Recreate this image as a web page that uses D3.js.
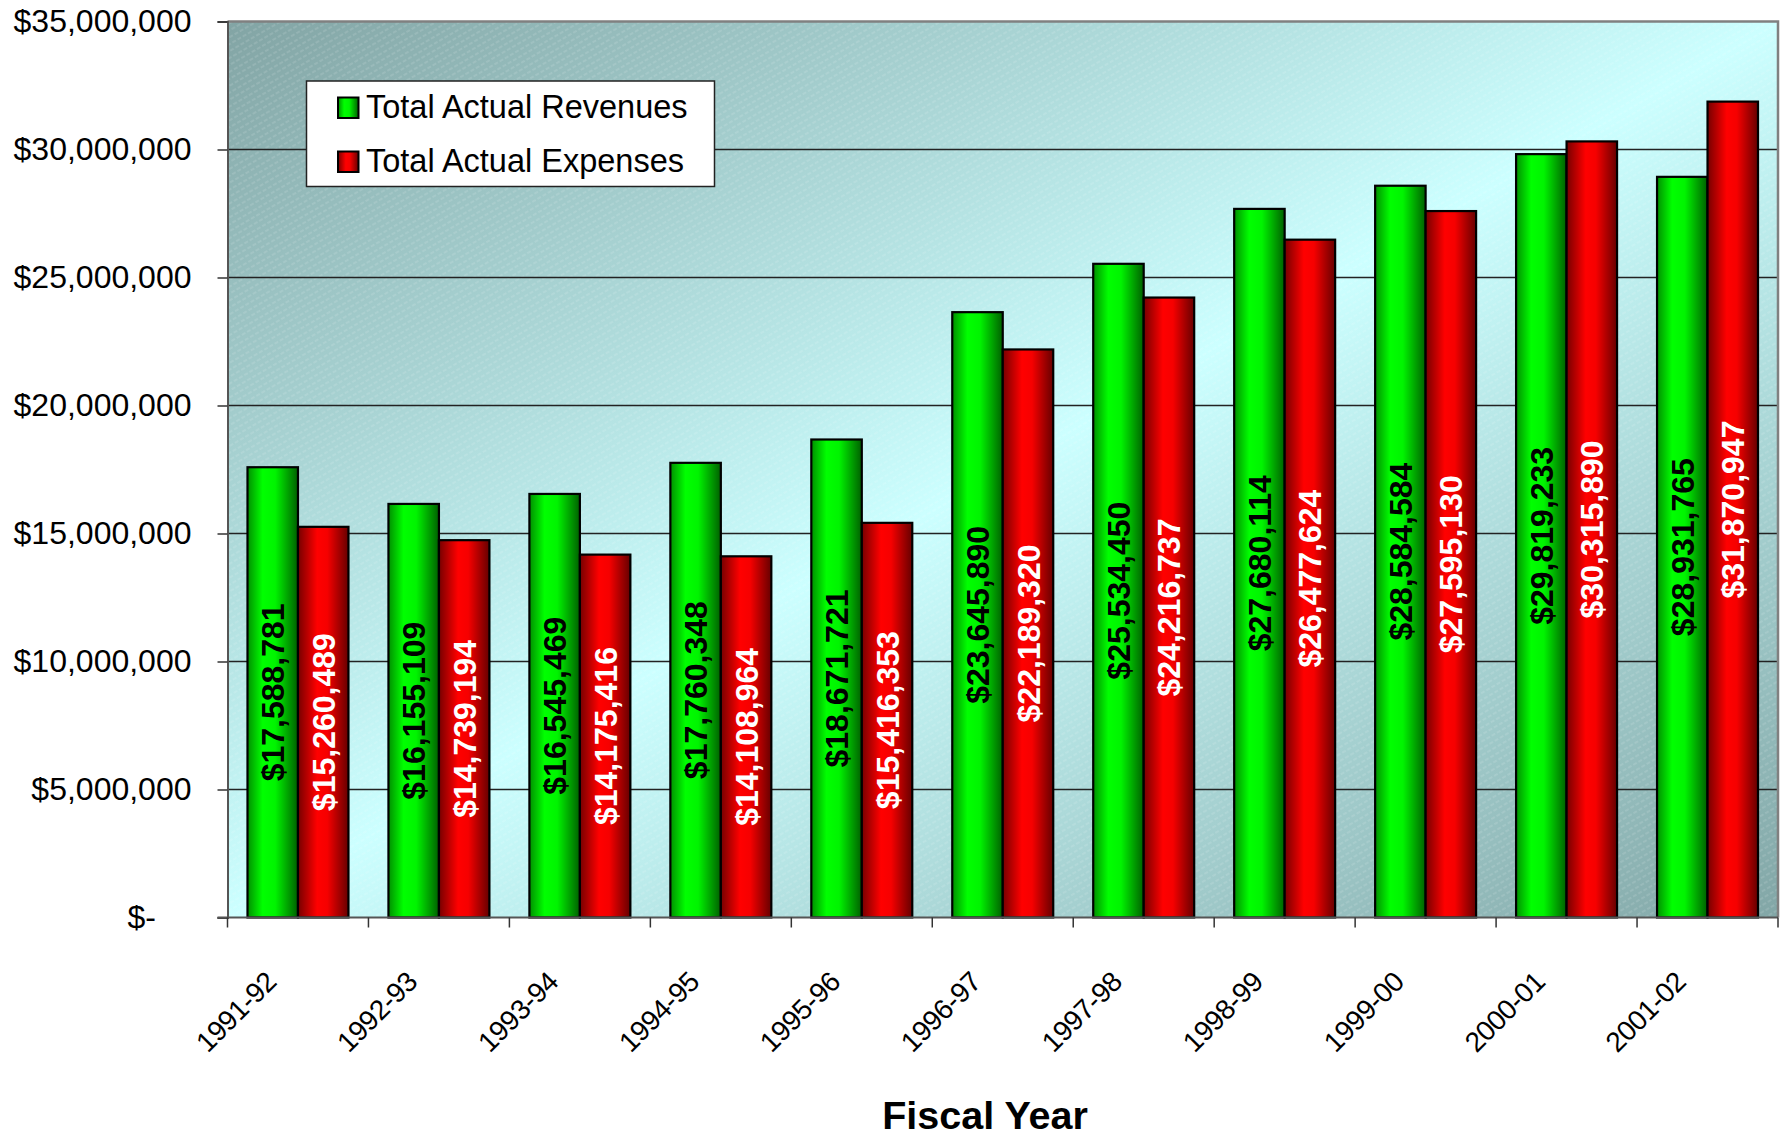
<!DOCTYPE html>
<html><head><meta charset="utf-8">
<script src="https://cdn.jsdelivr.net/npm/d3@7"></script>
<style>
html,body{margin:0;padding:0;background:#fff;}
svg{display:block;font-family:"Liberation Sans",Arial,sans-serif;}
</style></head>
<body>
<svg id="chart" width="1780" height="1136"></svg>
<script>
const categories = ["1991-92","1992-93","1993-94","1994-95","1995-96","1996-97","1997-98","1998-99","1999-00","2000-01","2001-02"];
const revenues = [17588781,16155109,16545469,17760348,18671721,23645890,25534450,27680114,28584584,29819233,28931765];
const expenses = [15260489,14739194,14175416,14108964,15416353,22189320,24216737,26477624,27595130,30315890,31870947];
const seriesNames = ["Total Actual Revenues","Total Actual Expenses"];
const yTicks = [0,5000000,10000000,15000000,20000000,25000000,30000000,35000000];
const xTitle = "Fiscal Year";

const svg = d3.select("#chart");
const L = 227.5, R = 1778, T = 21.5, B = 917.5;
const defs = svg.append("defs");

const bg = defs.append("linearGradient").attr("id","bgGrad").attr("x1",0).attr("y1",0).attr("x2",1).attr("y2",1);
bg.append("stop").attr("offset","0%").attr("stop-color","#82a4a4");
bg.append("stop").attr("offset","50%").attr("stop-color","#ccffff");
bg.append("stop").attr("offset","100%").attr("stop-color","#82a6a6");

const hatch = defs.append("pattern").attr("id","hatch").attr("patternUnits","userSpaceOnUse")
  .attr("width",12).attr("height",6).attr("patternTransform","rotate(-30)");
hatch.append("line").attr("x1",0).attr("y1",3).attr("x2",12).attr("y2",3)
  .attr("stroke","#fff").attr("stroke-width",0.8).attr("stroke-dasharray","4,2").attr("opacity",0.28);

function barGrad(id, stops){
  const g = defs.append("linearGradient").attr("id",id).attr("x1",0).attr("y1",0).attr("x2",1).attr("y2",0);
  stops.forEach(s=>g.append("stop").attr("offset",s[0]).attr("stop-color",s[1]));
}
barGrad("gGreen",[["0%","#009000"],["30%","#00ff00"],["55%","#00f400"],["100%","#006000"]]);
barGrad("gRed",[["0%","#760000"],["38%","#ff0000"],["58%","#f60000"],["100%","#660000"]]);
const fills = ["url(#gGreen)","url(#gRed)"];
const labelColors = ["#000","#fff"];

const x0 = d3.scaleBand().domain(categories).range([L,R]).paddingInner(0).paddingOuter(0);
const x1 = d3.scaleBand().domain([0,1]).range([0,x0.bandwidth()]).paddingInner(0).paddingOuter(0.396);
const y = d3.scaleLinear().domain([0,35000000]).range([B,T]);

svg.append("rect").attr("x",L).attr("y",T).attr("width",R-L).attr("height",B-T).attr("fill","url(#bgGrad)");
svg.append("rect").attr("x",L).attr("y",T).attr("width",R-L).attr("height",B-T).attr("fill","url(#hatch)");

svg.append("g").selectAll("line").data(yTicks.filter(d=>d>0 && d<35000000)).join("line")
  .attr("x1",L).attr("x2",R).attr("y1",d=>y(d)).attr("y2",d=>y(d))
  .attr("stroke","#222").attr("stroke-width",1.3);

svg.append("path").attr("d",`M${L},${T}H${R}V${B}`).attr("fill","none").attr("stroke","#808080").attr("stroke-width",2.5);

const fmt = d3.format(",");
const yAxis = d3.axisLeft(y).tickValues(yTicks).tickSize(10).tickPadding(26)
  .tickFormat(d => d === 0 ? "$-\u00a0\u00a0\u00a0\u00a0" : "$" + fmt(d));
const gy = svg.append("g").attr("transform",`translate(${L},0)`).call(yAxis);
gy.select(".domain").attr("stroke","#555").attr("stroke-width",2);
gy.selectAll(".tick line").attr("stroke","#333").attr("stroke-width",1.5);
gy.selectAll(".tick text").attr("font-size",32).attr("fill","#000").attr("font-family","Liberation Sans, Arial, sans-serif");

const data = categories.map((c,i)=>({c, v:[revenues[i],expenses[i]]}));
const groups = svg.append("g").selectAll("g").data(data).join("g")
  .attr("transform",d=>`translate(${x0(d.c)},0)`);
groups.selectAll("rect").data(d=>d.v.map((v,k)=>({v,k}))).join("rect")
  .attr("x",d=>x1(d.k)).attr("width",x1.bandwidth())
  .attr("y",d=>y(d.v)).attr("height",d=>B-y(d.v))
  .attr("fill",d=>fills[d.k]).attr("stroke","#000").attr("stroke-width",2.2);
groups.selectAll("text").data(d=>d.v.map((v,k)=>({v,k}))).join("text")
  .attr("transform",d=>`translate(${x1(d.k)+x1.bandwidth()/2},${(y(d.v)+B)/2}) rotate(-90)`)
  .attr("text-anchor","middle").attr("dy","0.36em")
  .attr("font-size",32).attr("font-weight","bold").attr("fill",d=>labelColors[d.k])
  .text(d=>"$"+fmt(d.v));

svg.append("line").attr("x1",L-10).attr("x2",R).attr("y1",B).attr("y2",B).attr("stroke","#555").attr("stroke-width",2);
const tickXs = categories.map(c=>x0(c)).concat([x0.range()[1]]);
svg.append("g").selectAll("line").data(tickXs).join("line")
  .attr("x1",d=>d).attr("x2",d=>d).attr("y1",B).attr("y2",B+10).attr("stroke","#333").attr("stroke-width",1.5);
svg.append("g").selectAll("text").data(categories).join("text")
  .attr("transform",d=>`translate(${x0(d)+x0.bandwidth()/2-20},${B+66}) rotate(-45)`)
  .attr("text-anchor","end").attr("font-size",28).attr("letter-spacing","-0.5").attr("fill","#000").text(d=>d);

svg.append("text").attr("x",985).attr("y",1129).attr("text-anchor","middle")
  .attr("font-size",39.5).attr("font-weight","bold").text(xTitle);

const lg = svg.append("g");
lg.append("rect").attr("x",306.5).attr("y",81).attr("width",408).attr("height",105.5)
  .attr("fill","#fff").attr("stroke","#222").attr("stroke-width",1.5);
seriesNames.forEach((n,k)=>{
  const yy = 97.5 + k*54;
  lg.append("rect").attr("x",338).attr("y",yy).attr("width",20.5).attr("height",20.5)
    .attr("fill",fills[k]).attr("stroke","#000").attr("stroke-width",2);
  lg.append("text").attr("x",366).attr("y",yy+20.5).attr("font-size",32.5).attr("fill","#000").text(n);
});
</script>
</body></html>
